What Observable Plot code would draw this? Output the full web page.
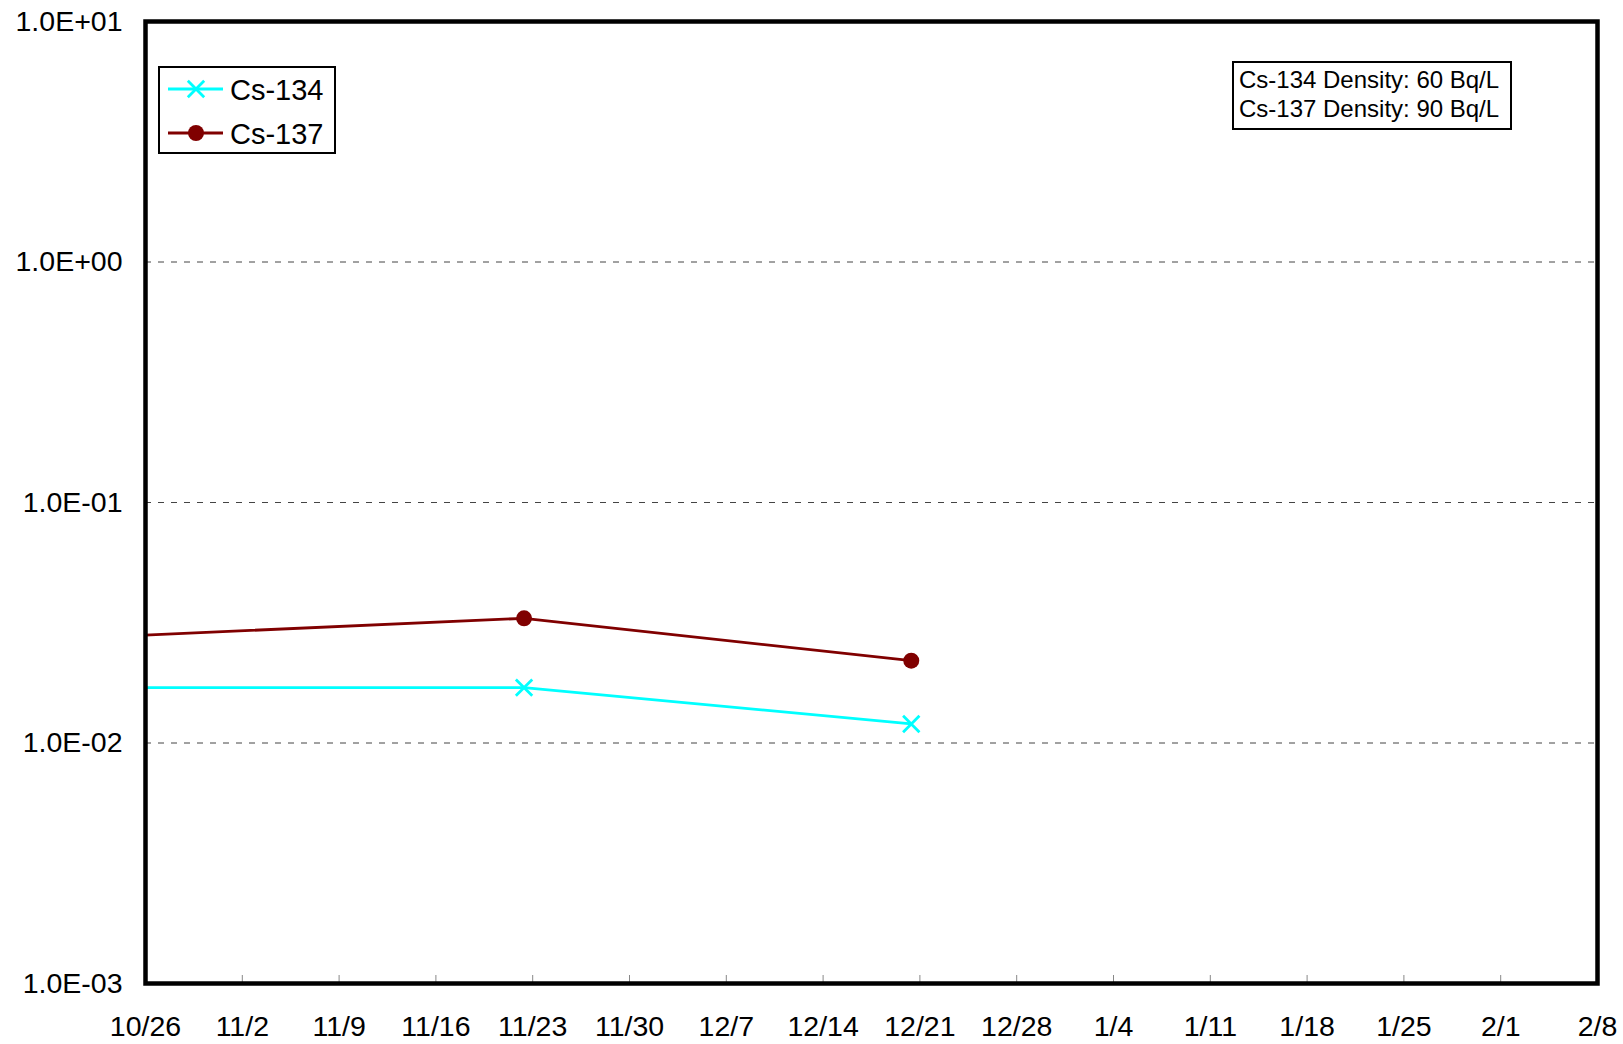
<!DOCTYPE html>
<html>
<head>
<meta charset="utf-8">
<script src="https://cdn.jsdelivr.net/npm/d3@7"></script>
<script src="https://cdn.jsdelivr.net/npm/@observablehq/plot@0.6"></script>
<style>
  html, body { margin: 0; padding: 0; background: white; overflow: hidden; }
</style>
</head>
<body>
<div id="chart"></div>
<script>
// ---- data ----
const sampleDates = ["2011-10-25T09:00", "2011-11-22T09:00", "2011-12-20T09:00"];
const cs134 = [0.017, 0.017, 0.012];
const cs137 = [0.028, 0.033, 0.022];
const seriesNames = ["Cs-134", "Cs-137"];
const xTickLabels = ["10/26","11/2","11/9","11/16","11/23","11/30","12/7","12/14","12/21","12/28","1/4","1/11","1/18","1/25","2/1","2/8"];
const xTickDates = ["2011-10-26","2011-11-02","2011-11-09","2011-11-16","2011-11-23","2011-11-30","2011-12-07","2011-12-14","2011-12-21","2011-12-28","2012-01-04","2012-01-11","2012-01-18","2012-01-25","2012-02-01","2012-02-08"];
const yTicks = [1e-3, 1e-2, 1e-1, 1, 10];
const yTickLabels = ["1.0E-03","1.0E-02","1.0E-01","1.0E+00","1.0E+01"];
const gridValues = [1e-2, 1e-1, 1];
const densityNotes = ["Cs-134 Density: 60 Bq/L", "Cs-137 Density: 90 Bq/L"];

// ---- build ----
const W = 1623, H = 1044;
const mL = 145, mR = 26, mT = 21, mB = 61;
const FONT = "'Liberation Sans', Arial, sans-serif";
const xT = xTickDates.map(s => new Date(s + "T00:00:00Z"));
const xLabelMap = new Map(xT.map((d, i) => [+d, xTickLabels[i]]));
const yLabelMap = new Map(yTicks.map((d, i) => [d, yTickLabels[i]]));
const d134 = sampleDates.map((s, i) => ({date: new Date(s + ":00Z"), v: cs134[i]}));
const d137 = sampleDates.map((s, i) => ({date: new Date(s + ":00Z"), v: cs137[i]}));
const CYAN = "#00FFFF", DRED = "#800000";

const svg = Plot.plot({
  width: W, height: H,
  marginLeft: mL, marginRight: mR, marginTop: mT, marginBottom: mB,
  style: {fontFamily: FONT, fontSize: "28.5px", color: "black", background: "white", overflow: "visible"},
  x: {type: "utc", domain: [xT[0], xT[xT.length - 1]]},
  y: {type: "log", domain: [1e-3, 10]},
  marks: [
    Plot.ruleY(gridValues, {stroke: "#444", strokeWidth: 1, strokeDasharray: "6,7"}),
    Plot.tickX(xT, {x: d => d, stroke: "#888", strokeWidth: 1, insetTop: H - mT - mB - 8}),
    Plot.line(d137, {x: "date", y: "v", stroke: DRED, strokeWidth: 2.8, clip: true}),
    Plot.dot(d137, {x: "date", y: "v", fill: DRED, r: 8, clip: true}),
    Plot.line(d134, {x: "date", y: "v", stroke: CYAN, strokeWidth: 2.8, clip: true}),
    Plot.dot(d134, {x: "date", y: "v", symbol: "times", stroke: CYAN, strokeWidth: 2.8, r: 7.5, clip: true}),
    Plot.axisX({ticks: xT, tickFormat: d => xLabelMap.get(+d), tickSize: 0, tickPadding: 32, label: null}),
    Plot.axisY({ticks: yTicks, tickFormat: d => yLabelMap.get(d), tickSize: 0, tickPadding: 23, label: null}),
    Plot.frame({stroke: "black", strokeWidth: 4.5})
  ]
});
document.getElementById("chart").appendChild(svg);

// ---- legend (series) ----
const s = d3.select(svg);
const lg = s.append("g").attr("font-family", FONT).attr("text-anchor", "start");
lg.append("rect").attr("x", 159).attr("y", 67).attr("width", 176).attr("height", 86)
  .attr("fill", "white").attr("stroke", "black").attr("stroke-width", 2);
const rows = [{name: seriesNames[0], color: CYAN, sym: d3.symbolTimes, y: 89, r: 7.5},
              {name: seriesNames[1], color: DRED, sym: d3.symbolCircle, y: 133, r: 8}];
rows.forEach(r => {
  lg.append("line").attr("x1", 168).attr("x2", 223).attr("y1", r.y).attr("y2", r.y)
    .attr("stroke", r.color).attr("stroke-width", 2.8);
  const p = lg.append("path").attr("transform", `translate(196,${r.y})`)
    .attr("d", d3.symbol(r.sym, Math.PI * r.r * r.r)());
  if (r.sym === d3.symbolTimes) p.attr("fill", "none").attr("stroke", r.color).attr("stroke-width", 2.8);
  else p.attr("fill", r.color);
  lg.append("text").attr("x", 230).attr("y", r.y + 11).attr("font-size", 29)
    .attr("text-anchor", "start").attr("fill", "black").text(r.name);
});

// ---- density note ----
const ng = s.append("g").attr("font-family", FONT).attr("text-anchor", "start");
ng.append("rect").attr("x", 1233).attr("y", 62).attr("width", 278).attr("height", 67)
  .attr("fill", "white").attr("stroke", "black").attr("stroke-width", 2);
densityNotes.forEach((t, i) => {
  ng.append("text").attr("x", 1239).attr("y", 88 + i * 29).attr("font-size", 24)
    .attr("text-anchor", "start").attr("fill", "black").text(t);
});
</script>
</body>
</html>
